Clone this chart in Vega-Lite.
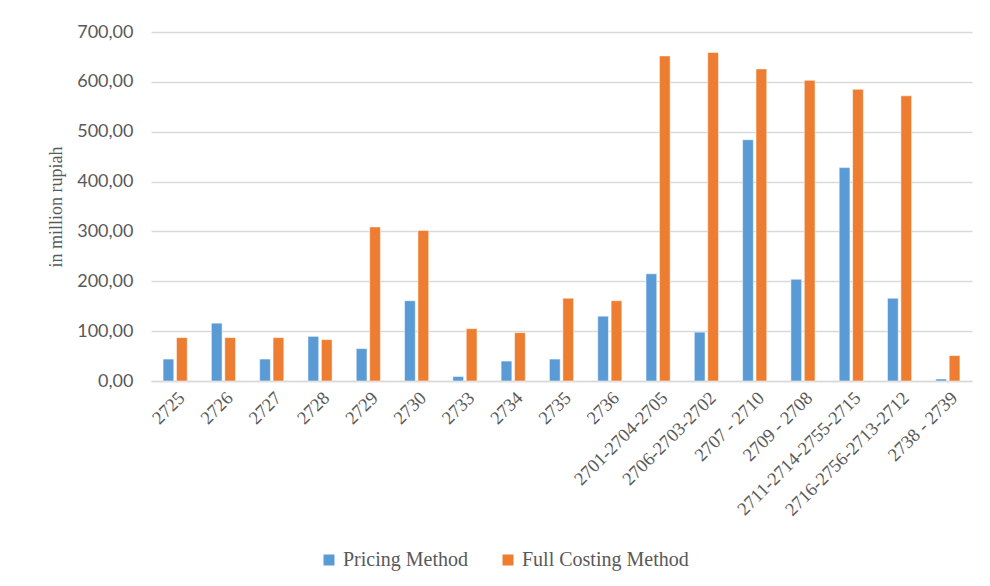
{
  "$schema": "https://vega.github.io/schema/vega-lite/v6.json",
  "autosize": "none",
  "width": 821,
  "height": 349,
  "padding": {"left": 151, "top": 32, "right": 18, "bottom": 205},
  "background": "white",
  "data": {
    "values": [
      {"code": "2725", "method": "Pricing Method", "value": 44},
      {"code": "2725", "method": "Full Costing Method", "value": 87},
      {"code": "2726", "method": "Pricing Method", "value": 116},
      {"code": "2726", "method": "Full Costing Method", "value": 87},
      {"code": "2727", "method": "Pricing Method", "value": 44},
      {"code": "2727", "method": "Full Costing Method", "value": 87},
      {"code": "2728", "method": "Pricing Method", "value": 89.5},
      {"code": "2728", "method": "Full Costing Method", "value": 83},
      {"code": "2729", "method": "Pricing Method", "value": 65},
      {"code": "2729", "method": "Full Costing Method", "value": 309},
      {"code": "2730", "method": "Pricing Method", "value": 161},
      {"code": "2730", "method": "Full Costing Method", "value": 302},
      {"code": "2733", "method": "Pricing Method", "value": 9},
      {"code": "2733", "method": "Full Costing Method", "value": 105},
      {"code": "2734", "method": "Pricing Method", "value": 40},
      {"code": "2734", "method": "Full Costing Method", "value": 97},
      {"code": "2735", "method": "Pricing Method", "value": 44},
      {"code": "2735", "method": "Full Costing Method", "value": 166},
      {"code": "2736", "method": "Pricing Method", "value": 130},
      {"code": "2736", "method": "Full Costing Method", "value": 161},
      {"code": "2701-2704-2705", "method": "Pricing Method", "value": 215},
      {"code": "2701-2704-2705", "method": "Full Costing Method", "value": 652},
      {"code": "2706-2703-2702", "method": "Pricing Method", "value": 98},
      {"code": "2706-2703-2702", "method": "Full Costing Method", "value": 659},
      {"code": "2707 - 2710", "method": "Pricing Method", "value": 484},
      {"code": "2707 - 2710", "method": "Full Costing Method", "value": 626},
      {"code": "2709 - 2708", "method": "Pricing Method", "value": 204},
      {"code": "2709 - 2708", "method": "Full Costing Method", "value": 603},
      {"code": "2711-2714-2755-2715", "method": "Pricing Method", "value": 428},
      {"code": "2711-2714-2755-2715", "method": "Full Costing Method", "value": 585},
      {"code": "2716-2756-2713-2712", "method": "Pricing Method", "value": 166},
      {"code": "2716-2756-2713-2712", "method": "Full Costing Method", "value": 572},
      {"code": "2738 - 2739", "method": "Pricing Method", "value": 4},
      {"code": "2738 - 2739", "method": "Full Costing Method", "value": 51}
    ]
  },
  "mark": {"type": "bar", "stroke": "white", "strokeWidth": 0.5},
  "encoding": {
    "x": {
      "field": "code",
      "type": "nominal",
      "sort": null,
      "scale": {"paddingInner": 0.5, "paddingOuter": 0.25},
      "axis": {
        "title": null,
        "labelAngle": -45,
        "labelFont": "Liberation Serif",
        "labelFontSize": 18.5,
        "labelColor": "#595959",
        "ticks": false,
        "labelPadding": 7,
        "labelLimit": 400,
        "domainColor": "#d9d9d9",
        "domainWidth": 1.5
      }
    },
    "xOffset": {
      "field": "method",
      "type": "nominal",
      "sort": ["Pricing Method", "Full Costing Method"],
      "scale": {"paddingInner": 0.2}
    },
    "y": {
      "field": "value",
      "type": "quantitative",
      "scale": {"domain": [0, 700]},
      "axis": {
        "title": "in million rupiah",
        "titleFont": "Liberation Serif",
        "titleFontSize": 18,
        "titleFontWeight": "normal",
        "titleColor": "#595959",
        "titlePadding": 11,
        "values": [0, 100, 200, 300, 400, 500, 600, 700],
        "labelExpr": "replace(format(datum.value, '.2f'), '.', ',')",
        "labelFont": "Lato",
        "labelFontSize": 18,
        "labelColor": "#595959",
        "labelPadding": 18,
        "ticks": false,
        "domain": false,
        "gridColor": "#d9d9d9",
        "gridWidth": 1.5
      }
    },
    "color": {
      "field": "method",
      "type": "nominal",
      "sort": ["Pricing Method", "Full Costing Method"],
      "scale": {"domain": ["Pricing Method", "Full Costing Method"], "range": ["#5b9bd5", "#ed7d31"]},
      "legend": {
        "title": null,
        "orient": "none",
        "direction": "horizontal",
        "legendX": 168,
        "legendY": 518,
        "symbolType": "square",
        "symbolSize": 121,
        "symbolStrokeWidth": 0,
        "labelFont": "Liberation Serif",
        "labelFontSize": 20,
        "labelColor": "#595959",
        "columnPadding": 30,
        "labelOffset": 4,
        "labelLimit": 300
      }
    }
  },
  "config": {"view": {"stroke": null}}
}
